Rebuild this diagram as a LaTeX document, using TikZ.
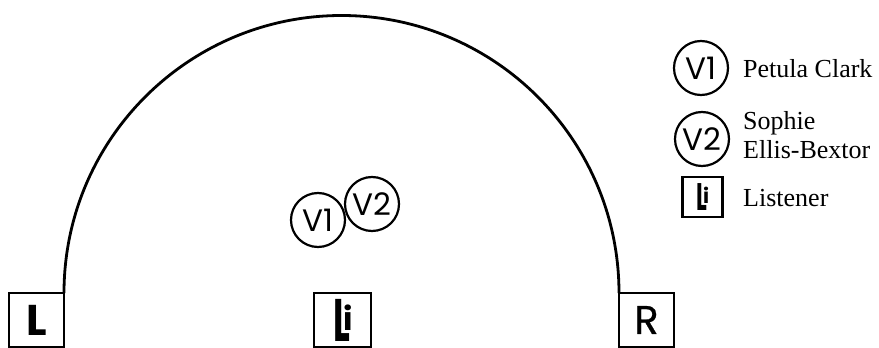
\documentclass[tikz,border=0pt]{standalone}
\usepackage{fontspec}
\setmainfont{Liberation Serif}
\newfontfamily\geo{Poppins}
\newcommand{\lstnicon}{{\geo\bfseries\fontsize{40}{40}\selectfont\rlap{\scalebox{0.88}[1.5]{L}}\hspace{9.5pt}\raisebox{11pt}{\fontsize{32}{32}\selectfont i}\hspace{1pt}}}
\tikzset{
  spk/.style={draw, line width=2.6pt, minimum width=55pt, minimum height=54pt, inner sep=0pt, outer sep=0pt, font=\geo\fontsize{40}{40}\selectfont},
  voice/.style={draw, circle, line width=2.2pt, minimum size=54pt, inner sep=0pt, outer sep=0pt, font=\geo\fontsize{31}{31}\selectfont},
  lbox/.style={draw, line width=2.4pt, minimum width=40pt, minimum height=40pt, inner sep=0pt, outer sep=0pt},
  legtext/.style={anchor=base west, inner sep=0pt, font=\fontsize{26}{26}\selectfont},
}
\begin{document}
\begin{tikzpicture}[x=1pt,y=1pt]
\useasboundingbox (0,0) rectangle (879,-348);
% speakers / listener
\node[spk] (L) at (36.5,-320) {\fontsize{43}{43}\selectfont\bfseries L};
\node[spk, minimum width=57pt] (Li) at (342.5,-320) {};
\node[inner sep=0pt] (Lic) at (343,-320) {\lstnicon};
\node[spk] (R) at (646.5,-320) {\addfontfeature{FakeBold=0.6}R};
% semicircle
\draw[line width=2.8pt] (L.north east) arc[start angle=180, end angle=0, radius=277.5pt];
% voices
\node[voice] (V1) at (318,-220) {V1};
\node[voice] (V2) at (372,-204) {V2};
% legend
\node[voice] (kV1) at (701,-68) {V1};
\node[voice] (kV2) at (702,-139) {V2};
\node[lbox] (kLi) at (702.5,-197) {};
\node[inner sep=0pt, scale=0.64] (kLic) at (703,-197) {\lstnicon};
\node[legtext] (t1) at (743,-77) {Petula Clark};
\node[legtext] (t2) at (743,-129) {Sophie};
\node[legtext] (t3) at (743,-158) {Ellis-Bextor};
\node[legtext] (t4) at (743,-206) {Listener};
\end{tikzpicture}
\end{document}
